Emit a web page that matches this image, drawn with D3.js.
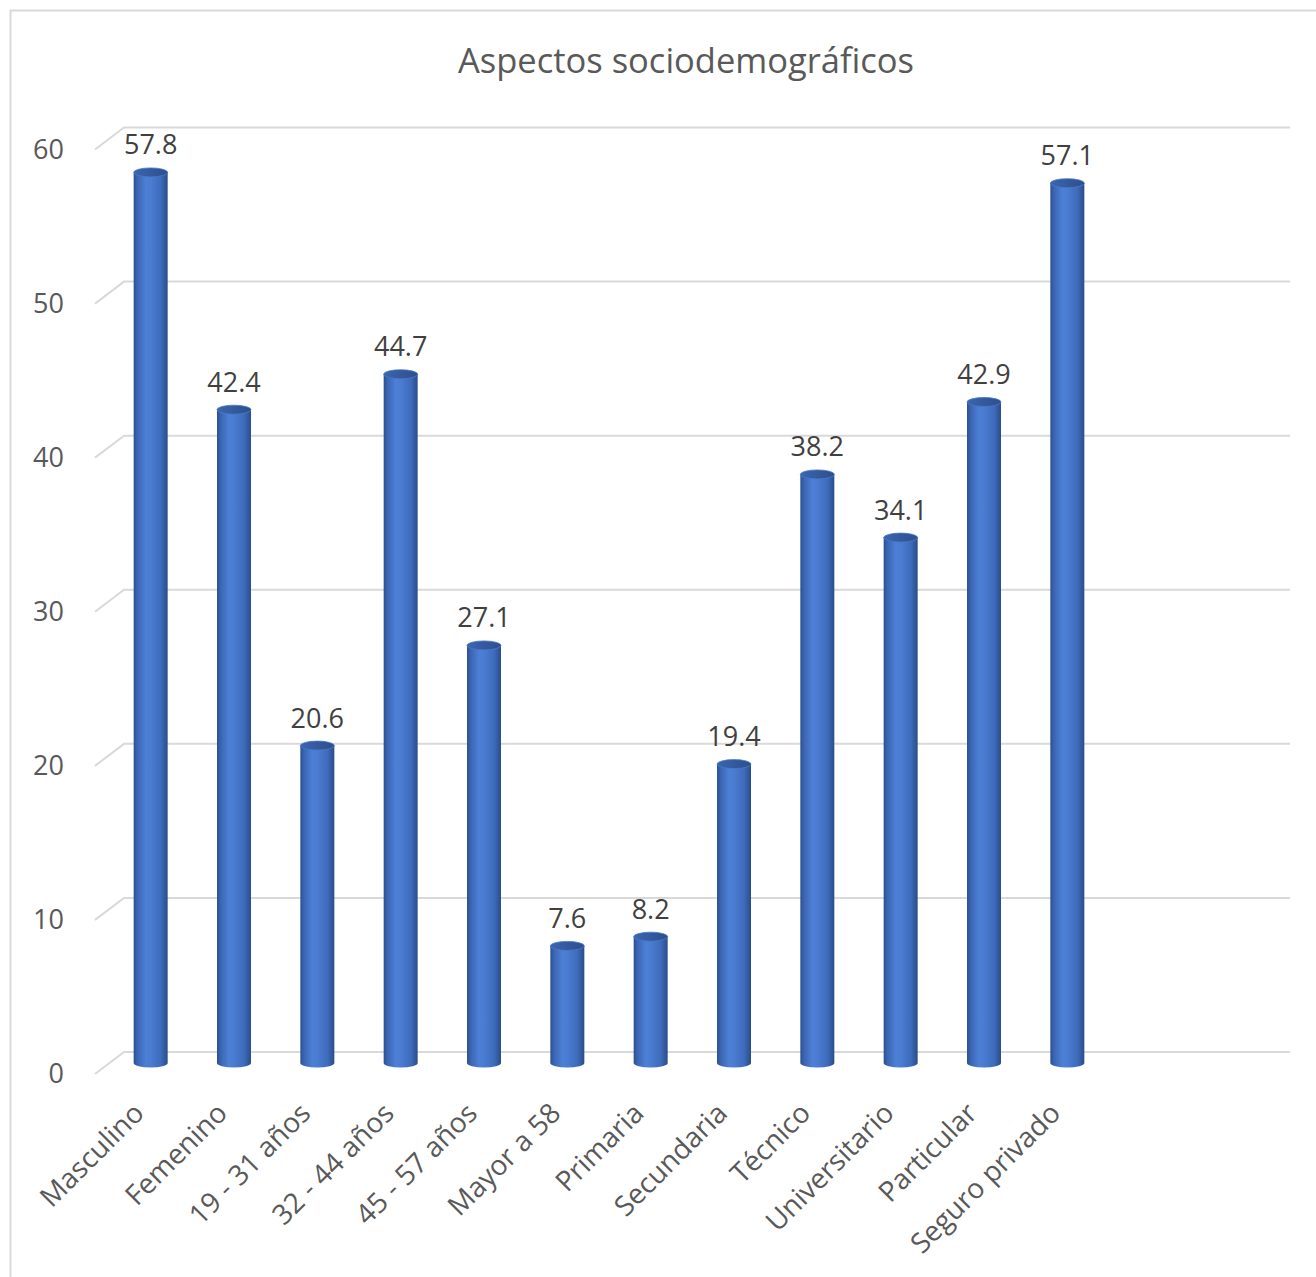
<!DOCTYPE html>
<html>
<head>
<meta charset="utf-8">
<script src="https://cdn.jsdelivr.net/npm/d3@7"></script>
<style>
  html, body { margin: 0; padding: 0; background: #ffffff; }
  svg { display: block; }
  text { font-family: "Open Sans", "Liberation Sans", sans-serif; fill: #595959; }
</style>
</head>
<body>
<svg id="chart" width="1316" height="1277"></svg>
<script>
// Chart data
const title = "Aspectos sociodemográficos";
const categories = ["Masculino", "Femenino", "19 - 31 años", "32 - 44 años", "45 - 57 años",
  "Mayor a 58", "Primaria", "Secundaria", "Técnico", "Universitario", "Particular", "Seguro privado"];
const values = [57.8, 42.4, 20.6, 44.7, 27.1, 7.6, 8.2, 19.4, 38.2, 34.1, 42.9, 57.1];
const yTicks = [0, 10, 20, 30, 40, 50, 60];

const svg = d3.select("#chart");

// Outer chart frame (only left and top edges fall inside the view)
svg.append("path")
  .attr("d", "M10.5,1277 L10.5,10.5 L1316,10.5")
  .attr("fill", "none").attr("stroke", "#d9d9d9").attr("stroke-width", 2);

// Title
svg.append("text")
  .attr("x", 686).attr("y", 73)
  .attr("text-anchor", "middle")
  .style("font-size", "34.5px")
  .text(title);

// Value scale on the back wall; the front edge and the bar plane sit lower (depth offset)
const y = d3.scaleLinear().domain([0, 60]).range([1052, 127.5]);
const frontOffset = 22;
const barOffset = 11;
const wallLeft = 124, wallRight = 1290, frontLeft = 95;

const x = d3.scaleBand().domain(categories).range([109, 1109]).paddingInner(0.59).paddingOuter(0.295);

// Gridlines: diagonal side wall segment + back wall line
const grid = svg.append("g");
grid.selectAll("path").data(yTicks).join("path")
  .attr("d", t => `M${frontLeft},${y(t) + frontOffset} L${wallLeft},${y(t)} L${wallRight},${y(t)}`)
  .attr("fill", "none").attr("stroke", "#d9d9d9").attr("stroke-width", 2);

// Y axis labels
svg.append("g").selectAll("text").data(yTicks).join("text")
  .attr("x", 64).attr("y", t => y(t) + frontOffset)
  .attr("text-anchor", "end").attr("dy", "0.35em")
  .style("font-size", "27px")
  .text(d => d);

// Cylinder shading
const defs = svg.append("defs");
const grad = defs.append("linearGradient").attr("id", "cyl").attr("x1", "0%").attr("x2", "100%").attr("y1", "0%").attr("y2", "0%");
[["0%", "#2b4f90"], ["10%", "#3a64b0"], ["35%", "#4c7fd5"], ["50%", "#4a7cd2"], ["80%", "#3e6bbb"], ["100%", "#2a4c8a"]]
  .forEach(([o, c]) => grad.append("stop").attr("offset", o).attr("stop-color", c));
const topGrad = defs.append("linearGradient").attr("id", "cyltop").attr("x1", "0%").attr("x2", "100%");
[["0%", "#3b66b2"], ["50%", "#34599d"], ["100%", "#2d4f8e"]]
  .forEach(([o, c]) => topGrad.append("stop").attr("offset", o).attr("stop-color", c));

const rx = 17, ry = 4.5;
const yb = v => y(v) + barOffset;

const bars = svg.append("g").selectAll("g").data(categories).join("g");
bars.append("path")
  .attr("d", (c, i) => {
    const cx = x(c) + x.bandwidth() / 2;
    const x0 = cx - rx, x1 = cx + rx;
    const yt = yb(values[i]), ybt = yb(0);
    return `M${x0},${yt} L${x0},${ybt} A${rx},${ry} 0 0 0 ${x1},${ybt} L${x1},${yt} Z`;
  })
  .attr("fill", "url(#cyl)");
bars.append("ellipse")
  .attr("cx", c => x(c) + x.bandwidth() / 2)
  .attr("cy", (c, i) => yb(values[i]))
  .attr("rx", rx).attr("ry", ry)
  .attr("fill", "url(#cyltop)")
  .attr("stroke", "#4a78c6").attr("stroke-width", 0.8);

// Value labels
bars.append("text")
  .attr("x", c => x(c) + x.bandwidth() / 2)
  .attr("y", (c, i) => yb(values[i]) - 18)
  .attr("text-anchor", "middle")
  .style("font-size", "27px")
  .style("fill", "#404040")
  .text((c, i) => values[i].toFixed(1));

// Category labels, rotated
svg.append("g").selectAll("text").data(categories).join("text")
  .attr("transform", c => `translate(${x(c) + x.bandwidth() / 2 - 12},${1108}) rotate(-45)`)
  .attr("text-anchor", "end")
  .attr("dy", "0.35em")
  .style("font-size", "28px")
  .text(c => c);
</script>
</body>
</html>
